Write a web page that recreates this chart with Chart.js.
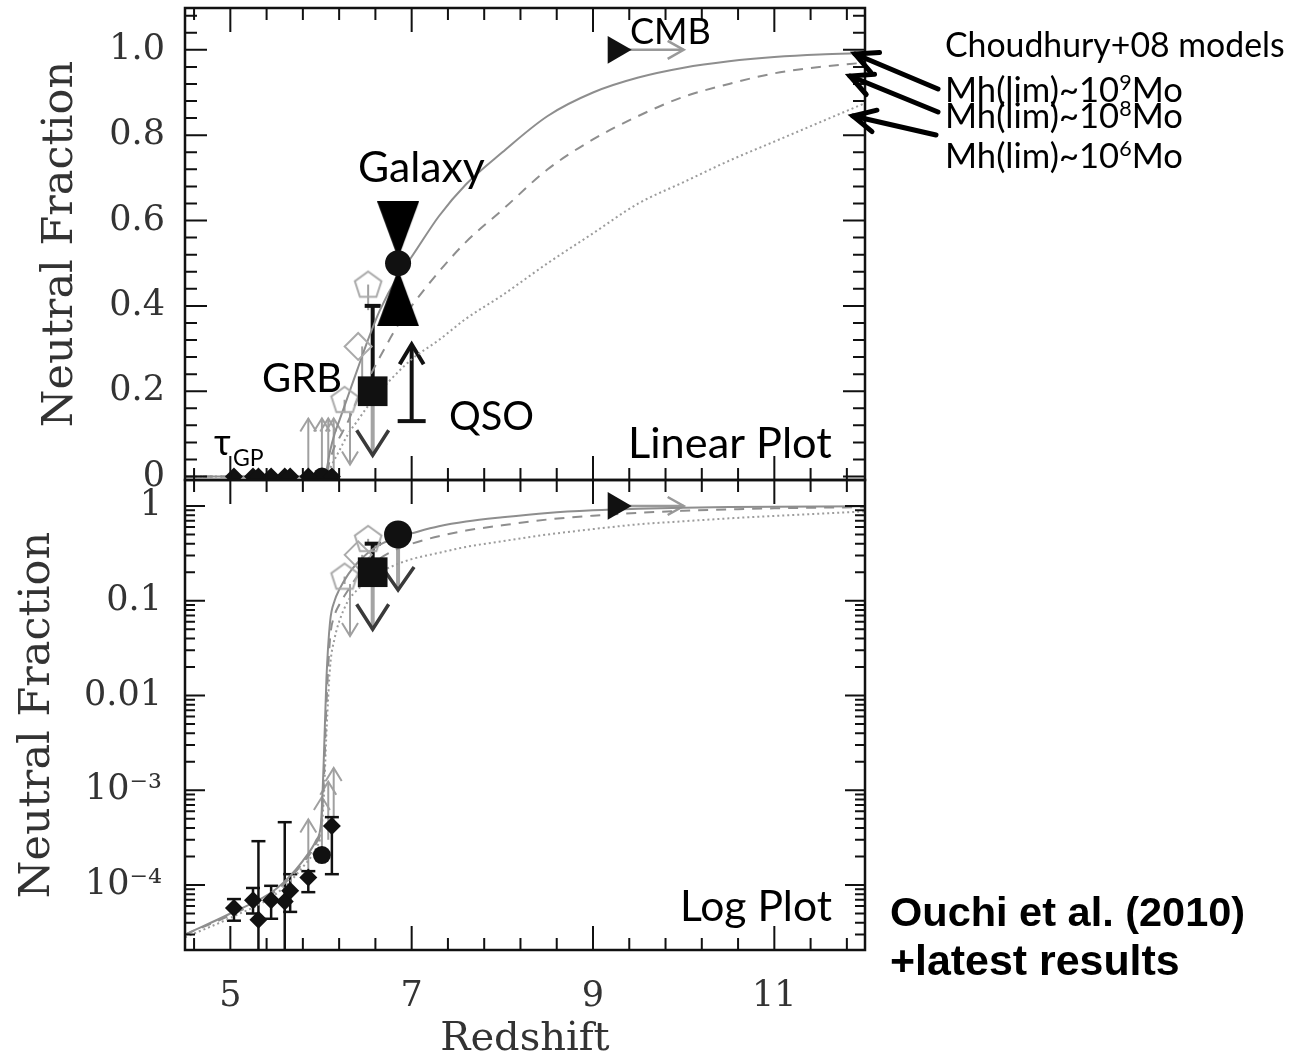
<!DOCTYPE html>
<html>
<head>
<meta charset="utf-8">
<title>Neutral fraction vs redshift</title>
<style>
  body { margin: 0; background: #fff; }
  .stage { position: relative; width: 1295px; height: 1058px; }
  .stage canvas { position: absolute; left: 0; top: 0; }
</style>
</head>
<body>
<div class="stage">
  <canvas id="linear" width="1295" height="1058"></canvas>
  <canvas id="log" width="1295" height="1058"></canvas>
</div>
<script src="https://cdn.jsdelivr.net/npm/chart.js"></script>
<script>
// Choudhury+08 model curves: solid Mh(lim)~1e9, dashed ~1e8, dotted ~1e6
const modelZ = [4.5, 5.0, 5.5, 5.8, 5.95, 6.0, 6.03, 6.06, 6.1, 6.15, 6.2, 6.3, 6.4, 6.5, 6.65, 6.85, 7.0, 7.3, 7.6, 8.0, 8.5, 9.0, 9.5, 10.0, 10.5, 11.0, 11.5, 12.0];
const model9 = [3.0e-5, 5.0e-5, 9.0e-5, 1.8e-4, 3.0e-4, 4.5e-4, 2e-3, 0.015, 0.06, 0.1, 0.13, 0.19, 0.25, 0.31, 0.39, 0.47, 0.515, 0.61, 0.685, 0.76, 0.845, 0.9, 0.935, 0.958, 0.973, 0.983, 0.989, 0.992];
const model8 = [3.0e-5, 4.8e-5, 8.6e-5, 1.7e-4, 2.8e-4, 4.0e-4, 1.2e-3, 0.008, 0.04, 0.07, 0.09, 0.13, 0.18, 0.22, 0.28, 0.355, 0.4, 0.48, 0.55, 0.625, 0.72, 0.79, 0.845, 0.89, 0.92, 0.945, 0.96, 0.97];
const model6 = [2.8e-5, 4.5e-5, 8.0e-5, 1.55e-4, 2.5e-4, 3.5e-4, 8e-4, 0.004, 0.02, 0.04, 0.06, 0.1, 0.13, 0.16, 0.2, 0.245, 0.275, 0.32, 0.37, 0.425, 0.5, 0.57, 0.64, 0.69, 0.74, 0.785, 0.83, 0.875];

// Gunn-Peterson optical depth points
const gpZ  = [5.04, 5.25, 5.31, 5.45, 5.60, 5.66, 5.86, 6.12];
const gpX  = [5.7e-5, 6.9e-5, 4.3e-5, 6.9e-5, 6.7e-5, 8.7e-5, 1.2e-4, 4.2e-4];
const gpLo = [4.2e-5, 5.0e-5, 1.0e-5, 4.4e-5, 1.0e-5, 5.2e-5, 8.4e-5, 1.3e-4];
const gpHi = [7.1e-5, 9.3e-5, 2.9e-4, 9.8e-5, 4.6e-4, 1.3e-4, 1.4e-4, 5.2e-4];
const gpCircZ = [6.01];
const gpCircX = [2.07e-4];

// grey lower limits (arrows up) and upper limit (arrow down)
const limZ = [5.86, 6.01, 6.08, 6.14];
const limX = [1.2e-4, 2.07e-4, 3.0e-4, 4.2e-4];
const ulZ = [6.32];
const ulX = [0.15];

// open grey markers
const pentZ = [6.52, 6.26];
const pentX = [0.45, 0.18];
const pentLo = [0.39, 0.15];
const diamZ = [6.41];
const diamX = [0.305];
const diamLo = [0.17];

// GRB
const grbZ = [6.57];
const grbX = [0.2];
const grbHi = [0.4];
const grbUL = [0.05];

// Galaxy (LAE) constraint
const galZ = [6.85];
const galX = [0.5];
const galUL = [0.13];
const galUpper = [0.578];
const galLower = [0.419];

// QSO lower limit
const qsoZ = [7.0];
const qsoLo = [0.13];
const qsoTip = [0.31];

// CMB
const cmbZ = [9.25];
const cmbX = [1.0];
const cmbEnd = [10.0];

// axis ticks
const linTicks = [0, 0.2, 0.4, 0.6, 0.8, 1.0];
const linLabels = ['0', '0.2', '0.4', '0.6', '0.8', '1.0'];
const logTicks = [1e-4, 1e-3, 1e-2, 0.1, 1];
const logLabels = ['10⁻⁴', '10⁻³', '0.01', '0.1', '1'];
const zTicks = [5, 7, 9, 11];
const zLabels = ['5', '7', '9', '11'];

const INK = '#111';
const GREY_LINE = '#8e8e8e';
const LIMIT = '#a0a0a0';
const LABEL = '#333';
const serif = "'DejaVu Serif', 'Liberation Serif', serif";
const sans = "Lato, 'Open Sans', sans-serif";
const logMin = 2.06e-5, logMax = 1.88;

const pts = (xs, ys) => xs.map((x, i) => ({ x, y: ys[i] }));

function triImg(w, h, down) {
  const c = document.createElement('canvas');
  c.width = w; c.height = h;
  const g = c.getContext('2d');
  g.fillStyle = '#000';
  g.beginPath();
  if (down) { g.moveTo(0, 0); g.lineTo(w, 0); g.lineTo(w / 2, h); }
  else { g.moveTo(w / 2, 0); g.lineTo(w, h); g.lineTo(0, h); }
  g.closePath();
  g.fill();
  return c;
}

function pentagonImg(r, color) {
  const s = Math.ceil(2 * r + 4);
  const c = document.createElement('canvas');
  c.width = c.height = s;
  const g = c.getContext('2d');
  g.strokeStyle = color; g.lineWidth = 2;
  g.beginPath();
  for (let k = 0; k < 5; k++) {
    const a = -Math.PI / 2 + k * 2 * Math.PI / 5;
    const px = s / 2 + r * Math.cos(a), py = s / 2 + r * Math.sin(a) + 1;
    if (k) g.lineTo(px, py); else g.moveTo(px, py);
  }
  g.closePath();
  g.stroke();
  return c;
}

const downTri = triImg(42, 57, true);
const upTri = triImg(42, 57, false);
const pentagon = pentagonImg(14, '#aaa');

function datasets(isLog) {
  const sets = [
    { data: pts(cmbZ, cmbX), pointStyle: 'triangle', pointRotation: 90, pointRadius: 16, pointBackgroundColor: INK },
    { data: pts(galZ, galX), pointStyle: 'circle', pointRadius: isLog ? 14 : 13, pointBackgroundColor: INK },
    { data: pts(grbZ, grbX), pointStyle: 'rect', pointRadius: 21, pointBackgroundColor: INK },
    { data: pts(gpZ, gpX), pointStyle: 'rectRot', pointRadius: 9, pointBackgroundColor: INK },
    { data: pts(gpCircZ, gpCircX), pointStyle: 'circle', pointRadius: 9, pointBackgroundColor: INK },
    { data: pts(pentZ, pentX), pointStyle: pentagon, pointRadius: 14 },
    { data: pts(diamZ, diamX), pointStyle: 'rectRot', pointRadius: 13.5, pointBackgroundColor: 'rgba(255,255,255,0)', pointBorderColor: '#aaa', pointBorderWidth: 2 }
  ];
  if (!isLog) {
    sets.push({ data: pts(galZ, galUpper), pointStyle: downTri, pointRadius: 20 });
    sets.push({ data: pts(galZ, galLower), pointStyle: upTri, pointRadius: 20 });
  }
  sets.push({ data: pts(modelZ, model9), showLine: true, pointRadius: 0, borderColor: GREY_LINE, borderWidth: 2, cubicInterpolationMode: 'monotone' });
  sets.push({ data: pts(modelZ, model8), showLine: true, pointRadius: 0, borderColor: GREY_LINE, borderWidth: 2, borderDash: [10, 8], cubicInterpolationMode: 'monotone' });
  sets.push({ data: pts(modelZ, model6), showLine: true, pointRadius: 0, borderColor: '#9c9c9c', borderWidth: 2, borderDash: [2, 3], cubicInterpolationMode: 'monotone' });
  return sets.map(s => Object.assign({ clip: 0, pointBorderWidth: 0 }, s));
}

function seg(ctx, x1, y1, x2, y2, color, w) {
  ctx.strokeStyle = color; ctx.lineWidth = w;
  ctx.beginPath(); ctx.moveTo(x1, y1); ctx.lineTo(x2, y2); ctx.stroke();
}

// open arrow head with its tip at (x, y), pointing along (dx, dy)
function vee(ctx, x, y, dx, dy, len, half, color, w) {
  const bx = x - dx * len, by = y - dy * len, nx = -dy, ny = dx;
  ctx.strokeStyle = color; ctx.lineWidth = w;
  ctx.beginPath();
  ctx.moveTo(bx + nx * half, by + ny * half);
  ctx.lineTo(x, y);
  ctx.lineTo(bx - nx * half, by - ny * half);
  ctx.stroke();
}

function fitText(ctx, text, x, y, width, family, weight) {
  ctx.font = `${weight} 100px ${family}`;
  const size = 100 * width / ctx.measureText(text).width;
  ctx.font = `${weight} ${size.toFixed(1)}px ${family}`;
  ctx.fillText(text, x, y);
}

function supText(ctx, x, y, base, sup, tail, width) {
  ctx.font = `100px ${sans}`;
  const wb = ctx.measureText(base).width, wt = ctx.measureText(tail).width;
  ctx.font = `62px ${sans}`;
  const ws = ctx.measureText(sup).width;
  const s = width / (wb + wt + ws);
  ctx.font = `${(100 * s).toFixed(1)}px ${sans}`;
  ctx.fillText(base, x, y);
  ctx.font = `${(62 * s).toFixed(1)}px ${sans}`;
  ctx.fillText(sup, x + wb * s, y - 36 * s);
  ctx.font = `${(100 * s).toFixed(1)}px ${sans}`;
  ctx.fillText(tail, x + (wb + ws) * s, y);
}

// tick marks along redshift, every 0.4
const zMarks = [];
for (let k = 0; k <= 18; k++) {
  const v = 4.6 + 0.4 * k;
  zMarks.push({ v, len: zTicks.some(t => Math.abs(t - v) < 1e-6) ? 24 : 12 });
}
const linMarks = [];
for (let k = 0; k <= 27; k++) linMarks.push({ v: 0.04 * k, len: k % 5 === 0 ? 22 : 12 });
const logMarks = [];
for (let e = -5; e <= 0; e++) {
  for (let m = 1; m <= 9; m++) {
    const v = m * Math.pow(10, e);
    if (v >= logMin && v <= logMax) logMarks.push({ v, len: m === 1 ? 20 : 10 });
  }
}

function drawFrame(chart, yMarks) {
  const { ctx, chartArea: a, scales: { x, y } } = chart;
  ctx.save();
  ctx.strokeStyle = INK; ctx.lineWidth = 2;
  ctx.beginPath();
  zMarks.forEach(m => {
    const p = x.getPixelForValue(m.v);
    ctx.moveTo(p, a.top); ctx.lineTo(p, a.top + m.len);
    ctx.moveTo(p, a.bottom); ctx.lineTo(p, a.bottom - m.len);
  });
  yMarks.forEach(m => {
    const p = y.getPixelForValue(m.v);
    ctx.moveTo(a.left, p); ctx.lineTo(a.left + m.len, p);
    ctx.moveTo(a.right, p); ctx.lineTo(a.right - m.len, p);
  });
  ctx.stroke();
  ctx.lineWidth = 2.5;
  ctx.strokeRect(a.left, a.top, a.right - a.left, a.bottom - a.top);
  ctx.restore();
}

function panelPlugin(isLog) {
  return {
    id: isLog ? 'logPanel' : 'linPanel',
    beforeDatasetsDraw(chart) {
      const { ctx, chartArea: a } = chart;
      const X = v => chart.scales.x.getPixelForValue(v);
      const Y = v => chart.scales.y.getPixelForValue(v);
      ctx.save();
      ctx.beginPath(); ctx.rect(a.left, a.top, a.right - a.left, a.bottom - a.top); ctx.clip();
      ctx.lineCap = 'butt';

      limZ.forEach((z, i) => {
        const px = X(z), py = Y(limX[i]);
        seg(ctx, px, py, px, py - 58, LIMIT, 2);
        vee(ctx, px, py - 58, 0, -1, 13, 8, LIMIT, 2);
      });
      ulZ.forEach((z, i) => {
        const px = X(z), py = Y(ulX[i]);
        seg(ctx, px, py, px, py + 52, LIMIT, 2);
        vee(ctx, px, py + 52, 0, 1, 13, 8, LIMIT, 2);
      });
      pentZ.forEach((z, i) => seg(ctx, X(z), Y(pentX[i]), X(z), Y(pentLo[i]), LIMIT, 2));
      diamZ.forEach((z, i) => seg(ctx, X(z) + 4, Y(diamX[i]), X(z) + 4, Y(diamLo[i]), LIMIT, 2));

      gpZ.forEach((z, i) => {
        const px = X(z), y1 = Y(gpLo[i]), y2 = Y(gpHi[i]);
        seg(ctx, px, y1, px, y2, INK, 2.5);
        seg(ctx, px - 7, y1, px + 7, y1, INK, 2.5);
        seg(ctx, px - 7, y2, px + 7, y2, INK, 2.5);
      });

      // GRB: error bar up, upper limit arrow down
      const gx = X(grbZ[0]), gy = Y(grbX[0]);
      seg(ctx, gx, gy, gx, Y(grbUL[0]), '#a4a4a4', 4);
      vee(ctx, gx, Y(grbUL[0]), 0, 1, 25, 16, '#3a3a3a', 3.5);
      seg(ctx, gx, gy, gx, Y(grbHi[0]), INK, 4);
      seg(ctx, gx - 8, Y(grbHi[0]), gx + 8, Y(grbHi[0]), INK, 4);

      if (isLog) {
        const px = X(galZ[0]);
        seg(ctx, px, Y(galX[0]), px, Y(galUL[0]), '#a4a4a4', 4);
        vee(ctx, px, Y(galUL[0]), 0, 1, 23, 16, '#3a3a3a', 3.5);
      } else {
        const qx = X(qsoZ[0]), yb = Y(qsoLo[0]), yt = Y(qsoTip[0]);
        seg(ctx, qx, yb, qx, yt + 2, INK, 4);
        seg(ctx, qx - 14, yb, qx + 14, yb, INK, 4);
        vee(ctx, qx, yt, 0, -1, 20, 12, INK, 4);
      }

      const cy = Y(cmbX[0]), ex = X(cmbEnd[0]);
      seg(ctx, X(cmbZ[0]), cy, ex, cy, '#999', 2.5);
      vee(ctx, ex, cy, 1, 0, 16, 9, '#999', 2.5);
      ctx.restore();
    },
    afterDraw(chart) {
      const ctx = chart.ctx;
      drawFrame(chart, isLog ? logMarks : linMarks);
      ctx.save();
      ctx.fillStyle = '#000';
      ctx.textAlign = 'left';
      ctx.textBaseline = 'alphabetic';
      if (isLog) {
        fitText(ctx, 'Log Plot', 680, 921, 152, sans, 'normal');
        fitText(ctx, 'Ouchi et al. (2010)', 890, 926, 355, "'Liberation Sans', Arial, sans-serif", 'bold');
        fitText(ctx, '+latest results', 890, 975, 290, "'Liberation Sans', Arial, sans-serif", 'bold');
      } else {
        fitText(ctx, 'CMB', 630, 44, 81, sans, 'normal');
        fitText(ctx, 'Galaxy', 358, 182, 127, sans, 'normal');
        fitText(ctx, 'GRB', 262, 392, 80, sans, 'normal');
        fitText(ctx, 'QSO', 449, 430, 85, sans, 'normal');
        fitText(ctx, 'Linear Plot', 628, 458, 204, sans, 'normal');
        ctx.font = `36px ${sans}`;
        ctx.fillText('τ', 214, 455);
        ctx.font = `23px ${sans}`;
        ctx.fillText('GP', 233, 466);

        fitText(ctx, 'Choudhury+08 models', 945, 57, 340, sans, 'normal');
        supText(ctx, 945, 102, 'Mh(lim)~10', '9', 'Mo', 238);
        supText(ctx, 945, 128, 'Mh(lim)~10', '8', 'Mo', 238);
        supText(ctx, 945, 168, 'Mh(lim)~10', '6', 'Mo', 238);

        // pointers from the model labels to the curve ends
        [[938, 89, 855, 54], [938, 112, 850, 76], [936, 135, 853, 116]].forEach(([x1, y1, x2, y2]) => {
          const L = Math.hypot(x2 - x1, y2 - y1);
          ctx.lineCap = 'round';
          seg(ctx, x1, y1, x2, y2, '#000', 5);
          vee(ctx, x2, y2, (x2 - x1) / L, (y2 - y1) / L, 22, 11, '#000', 5);
        });
      }
      ctx.restore();
    }
  };
}

const matchLabel = (ticks, labels, v) => labels[ticks.findIndex(t => Math.abs(t - v) <= Math.abs(t) * 1e-6 + 1e-9)];

// linear panel
new Chart(document.getElementById('linear'), {
  type: 'scatter',
  data: { datasets: datasets(false) },
  options: {
    responsive: false,
    animation: false,
    events: [],
    layout: { autoPadding: false, padding: { left: 0, right: 430, top: 8, bottom: 578 } },
    plugins: { legend: { display: false }, tooltip: { enabled: false } },
    scales: {
      x: { type: 'linear', min: 4.5, max: 12, display: false },
      y: {
        type: 'linear', min: -0.008, max: 1.098,
        afterBuildTicks: s => { s.ticks = linTicks.map(v => ({ value: v })); },
        afterFit: s => { s.width = 185; s.paddingTop = 0; s.paddingBottom = 0; },
        grid: { display: false },
        border: { display: false },
        ticks: {
          padding: 12, color: LABEL,
          font: { family: serif, size: 35, lineHeight: 0.3 },
          callback: v => matchLabel(linTicks, linLabels, v)
        },
        title: {
          display: true, text: 'Neutral Fraction', color: LABEL,
          font: { family: serif, size: 43 },
          padding: { top: 35, bottom: 0 }
        }
      }
    }
  },
  plugins: [panelPlugin(false)]
});

// log panel
new Chart(document.getElementById('log'), {
  type: 'scatter',
  data: { datasets: datasets(true) },
  options: {
    responsive: false,
    animation: false,
    events: [],
    layout: { autoPadding: false, padding: { left: 0, right: 430, top: 480, bottom: 0 } },
    plugins: { legend: { display: false }, tooltip: { enabled: false } },
    scales: {
      x: {
        type: 'linear', min: 4.5, max: 12,
        afterBuildTicks: s => { s.ticks = zTicks.map(v => ({ value: v })); },
        afterFit: s => { s.height = 108; s.paddingLeft = 0; s.paddingRight = 0; },
        grid: { display: false },
        border: { display: false },
        ticks: {
          padding: 18, color: LABEL, maxRotation: 0,
          font: { family: serif, size: 35 },
          callback: v => matchLabel(zTicks, zLabels, v)
        },
        title: {
          display: true, text: 'Redshift', color: LABEL,
          font: { family: serif, size: 40, lineHeight: 0.8 },
          padding: { top: 0, bottom: 2 }
        }
      },
      y: {
        type: 'logarithmic', min: logMin, max: logMax,
        afterBuildTicks: s => { s.ticks = logTicks.map(v => ({ value: v })); },
        afterFit: s => { s.width = 185; s.paddingTop = 0; s.paddingBottom = 0; },
        grid: { display: false },
        border: { display: false },
        ticks: {
          padding: 15, color: LABEL,
          font: { family: serif, size: 35 },
          callback: v => matchLabel(logTicks, logLabels, v)
        },
        title: {
          display: true, text: 'Neutral Fraction', color: LABEL,
          font: { family: serif, size: 43 },
          padding: { top: 12, bottom: 0 }
        }
      }
    }
  },
  plugins: [panelPlugin(true)]
});
</script>
</body>
</html>
